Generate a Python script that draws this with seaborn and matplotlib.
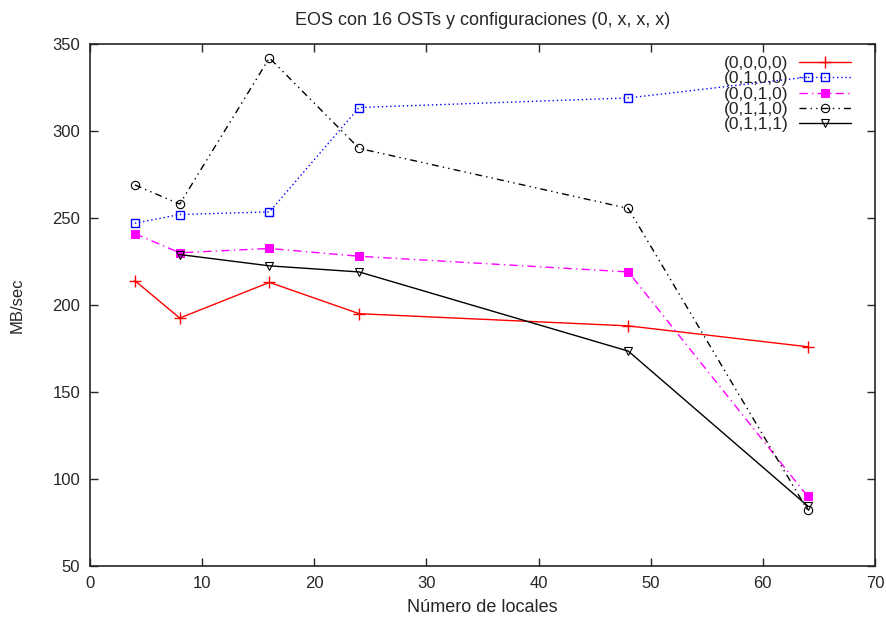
import numpy as np
import pandas as pd
import seaborn as sns
import matplotlib.pyplot as plt

locales = [4, 8, 16, 24, 48, 64]
s0000 = [214, 192.5, 213, 195, 188, 176]
s0100 = [247, 252, 253.5, 313.5, 319, 331]
s0010 = [241, 230, 232.5, 228, 219, 90]
s0110 = [269, 258, 342, 290, 255.5, 82]
s0111 = [np.nan, 229, 222.5, 219, 173.5, 84.5]

labels = ["(0,0,0,0)", "(0,1,0,0)", "(0,0,1,0)", "(0,1,1,0)", "(0,1,1,1)"]
series = [s0000, s0100, s0010, s0110, s0111]

sns.set_style("ticks")
plt.rcParams["font.family"] = ["Liberation Sans", "DejaVu Sans"]

styles = [
    dict(color="#ff0000", linestyle="-", marker="+", markersize=8, markeredgecolor="#ff0000", markeredgewidth=1),
    dict(color="#0000ff", linestyle=(0, (1, 2)), marker="s", markersize=6, markerfacecolor="none",
         markeredgecolor="#0000ff", markeredgewidth=1),
    dict(color="#ff00ff", linestyle=(0, (6, 3, 1, 3)), marker="s", markersize=6, markerfacecolor="#ff00ff",
         markeredgecolor="#ff00ff"),
    dict(color="black", linestyle=(0, (5, 3, 1, 3, 1, 3)), marker="o", markersize=6, markerfacecolor="none",
         markeredgecolor="black", markeredgewidth=0.8),
    dict(color="black", linestyle="-", marker="v", markersize=6, markerfacecolor="none",
         markeredgecolor="black", markeredgewidth=0.8),
]

fig = plt.figure(figsize=(8.87, 6.2), dpi=100)
ax = fig.add_axes([90 / 887, 1 - 566 / 620, (875 - 90) / 887, (566 - 44) / 620])

for lab, vals, st in zip(labels, series, styles):
    df = pd.DataFrame({"x": locales, "y": vals}).dropna()
    sns.lineplot(data=df, x="x", y="y", ax=ax, label=lab, linewidth=1, **st)

ax.set_xlim(0, 70)
ax.set_ylim(50, 350)
ax.set_xticks(range(0, 71, 10))
ax.set_yticks(range(50, 351, 50))
ax.tick_params(direction="in", top=True, right=True, labelsize=12, length=6, width=1, pad=7)
for sp in ax.spines.values():
    sp.set_visible(True)
    sp.set_linewidth(1.2)
ax.set_xlabel("Número de locales", fontsize=13, labelpad=6)
ax.set_ylabel("MB/sec", fontsize=12, labelpad=20)
ax.set_title("EOS con 16 OSTs y configuraciones (0, x, x, x)", fontsize=13, pad=14)

leg = ax.legend(loc="upper right", bbox_to_anchor=(0.985, 1.0), frameon=False, markerfirst=False,
                fontsize=12.5, handlelength=3.0, labelspacing=0.0, handletextpad=0.6, borderaxespad=0.3)

fig.savefig("out.png", dpi=100)
